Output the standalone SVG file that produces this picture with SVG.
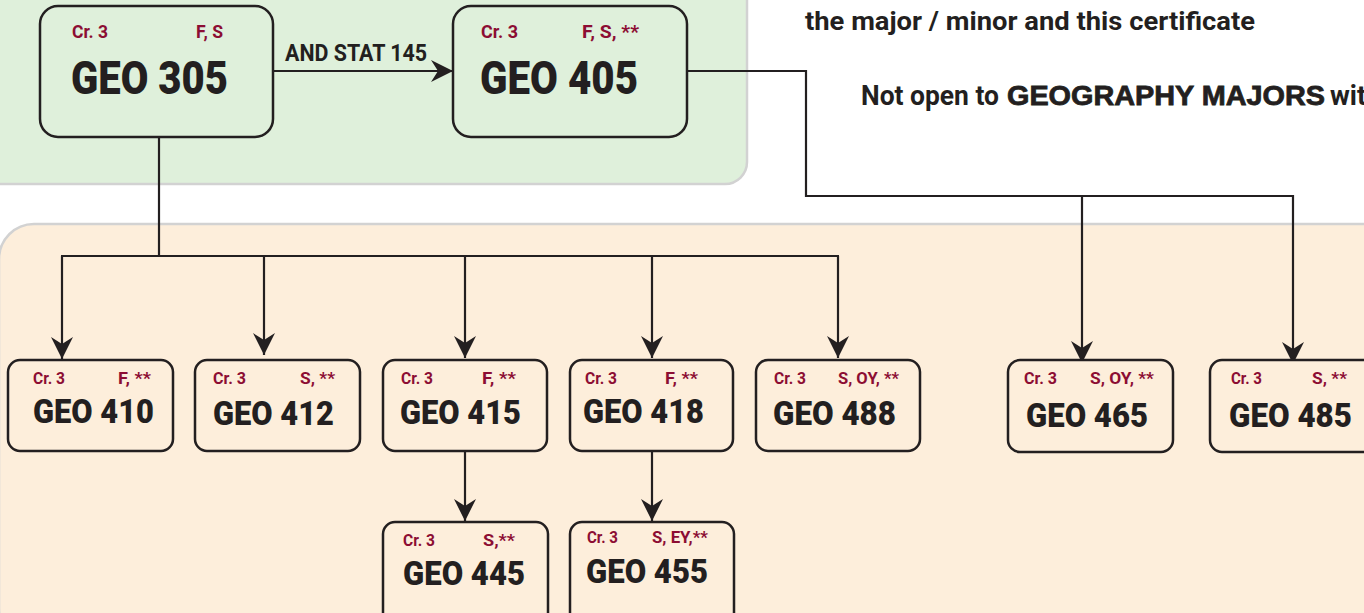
<svg xmlns="http://www.w3.org/2000/svg" width="1364" height="613" viewBox="0 0 1364 613">
<defs>
<style>
.panel-g{fill:#dff0db;stroke:#d2d2d2;stroke-width:2.5}
.panel-p{fill:#fdeedb;stroke:#d2d2d2;stroke-width:2.5}
.box{stroke:#231f20;stroke-width:2.5}
.bg{fill:#dff0db}
.bp{fill:#fdeedb}
.t{font-family:Roboto,"Liberation Sans",sans-serif;font-weight:700}
.h{font-weight:900}
.red{fill:#8c0d33}
.blk{fill:#231f20}
.conn{fill:none;stroke:#231f20;stroke-width:2.2}
</style>
<marker id="arr" markerUnits="userSpaceOnUse" viewBox="0 0 22 22" refX="22" refY="11" markerWidth="22" markerHeight="22" orient="auto">
<path d="M0,0 L22,11 L0,22 L7,11 Z" fill="#231f20"/>
</marker>
</defs>
<rect class="panel-g" x="-20" y="-30" width="767" height="214" rx="22"/>
<rect class="panel-p" x="-1" y="224" width="1420" height="420" rx="35"/>

<g id="notes" class="t blk">
<text x="805" y="30" font-size="26" textLength="450" lengthAdjust="spacingAndGlyphs">the major / minor and this certificate</text>
<text x="861" y="105" font-size="27" textLength="138" lengthAdjust="spacingAndGlyphs">Not open to</text>
<text x="1007" y="105" font-size="28" font-family="'Liberation Sans',sans-serif" font-weight="900" stroke="#231f20" stroke-width="0.8" textLength="318" lengthAdjust="spacingAndGlyphs">GEOGRAPHY MAJORS</text>
<text x="1330" y="105" font-size="27">with</text>
</g>

<g id="connectors">
<path class="conn" d="M273,71 H453" marker-end="url(#arr)"/>
<path class="conn" d="M159,137 V256"/>
<path class="conn" d="M61,256 H839" stroke-width="2.6"/>
<path class="conn" d="M62,256 V359" marker-end="url(#arr)"/>
<path class="conn" d="M264,256 V355" marker-end="url(#arr)"/>
<path class="conn" d="M465,256 V358" marker-end="url(#arr)"/>
<path class="conn" d="M652,256 V358" marker-end="url(#arr)"/>
<path class="conn" d="M838,256 V358" marker-end="url(#arr)"/>
<path class="conn" d="M465,451 V521" marker-end="url(#arr)"/>
<path class="conn" d="M652,451 V521" marker-end="url(#arr)"/>
<path class="conn" d="M687,71 H806 V196 H1293 V364" marker-end="url(#arr)"/>
<path class="conn" d="M1082,196 V363" marker-end="url(#arr)"/>
<text class="t blk" x="285" y="61" font-size="24" textLength="142" lengthAdjust="spacingAndGlyphs">AND STAT 145</text>
</g>

<g id="geo305">
<rect class="box bg" x="40" y="6" width="233" height="131" rx="18"/>
<text class="t red" x="72" y="38" font-size="18" textLength="36" lengthAdjust="spacingAndGlyphs">Cr. 3</text>
<text class="t red" x="196" y="38" font-size="18" textLength="27" lengthAdjust="spacingAndGlyphs">F, S</text>
<text class="t h blk" x="71" y="94" font-size="46" textLength="157" lengthAdjust="spacingAndGlyphs">GEO 305</text>
</g>
<g id="geo405">
<rect class="box bg" x="453" y="6" width="234" height="131" rx="18"/>
<text class="t red" x="481" y="38" font-size="18" textLength="37" lengthAdjust="spacingAndGlyphs">Cr. 3</text>
<text class="t red" x="582" y="38" font-size="18" textLength="57" lengthAdjust="spacingAndGlyphs">F, S, **</text>
<text class="t h blk" x="480" y="94" font-size="46" textLength="158" lengthAdjust="spacingAndGlyphs">GEO 405</text>
</g>

<g id="geo410">
<rect class="box bp" x="8" y="360" width="165" height="91" rx="12"/>
<text class="t red" x="33" y="384" font-size="16" textLength="32" lengthAdjust="spacingAndGlyphs">Cr. 3</text>
<text class="t red" x="118" y="384" font-size="16" textLength="33" lengthAdjust="spacingAndGlyphs">F, **</text>
<text class="t h blk" x="33" y="423" font-size="34" textLength="121" lengthAdjust="spacingAndGlyphs">GEO 410</text>
</g>
<g id="geo412">
<rect class="box bp" x="195" y="360" width="165" height="91" rx="12"/>
<text class="t red" x="213" y="384" font-size="16" textLength="33" lengthAdjust="spacingAndGlyphs">Cr. 3</text>
<text class="t red" x="300" y="384" font-size="16" textLength="35" lengthAdjust="spacingAndGlyphs">S, **</text>
<text class="t h blk" x="213" y="425" font-size="34" textLength="121" lengthAdjust="spacingAndGlyphs">GEO 412</text>
</g>
<g id="geo415">
<rect class="box bp" x="383" y="360" width="164" height="91" rx="12"/>
<text class="t red" x="401" y="384" font-size="16" textLength="32" lengthAdjust="spacingAndGlyphs">Cr. 3</text>
<text class="t red" x="482" y="384" font-size="16" textLength="34" lengthAdjust="spacingAndGlyphs">F, **</text>
<text class="t h blk" x="400" y="424" font-size="34" textLength="121" lengthAdjust="spacingAndGlyphs">GEO 415</text>
</g>
<g id="geo418">
<rect class="box bp" x="570" y="360" width="163" height="91" rx="12"/>
<text class="t red" x="585" y="384" font-size="16" textLength="32" lengthAdjust="spacingAndGlyphs">Cr. 3</text>
<text class="t red" x="665" y="384" font-size="16" textLength="33" lengthAdjust="spacingAndGlyphs">F, **</text>
<text class="t h blk" x="583" y="423" font-size="34" textLength="121" lengthAdjust="spacingAndGlyphs">GEO 418</text>
</g>
<g id="geo488">
<rect class="box bp" x="756" y="360" width="164" height="91" rx="12"/>
<text class="t red" x="774" y="384" font-size="16" textLength="32" lengthAdjust="spacingAndGlyphs">Cr. 3</text>
<text class="t red" x="838" y="384" font-size="16" textLength="61" lengthAdjust="spacingAndGlyphs">S, OY, **</text>
<text class="t h blk" x="773" y="425" font-size="34" textLength="123" lengthAdjust="spacingAndGlyphs">GEO 488</text>
</g>
<g id="geo465">
<rect class="box bp" x="1008" y="360" width="165" height="92" rx="12"/>
<text class="t red" x="1024" y="384" font-size="16" textLength="33" lengthAdjust="spacingAndGlyphs">Cr. 3</text>
<text class="t red" x="1090" y="384" font-size="16" textLength="64" lengthAdjust="spacingAndGlyphs">S, OY,  **</text>
<text class="t h blk" x="1026" y="427" font-size="34" textLength="122" lengthAdjust="spacingAndGlyphs">GEO 465</text>
</g>
<g id="geo485">
<rect class="box bp" x="1210" y="360" width="180" height="92" rx="12"/>
<text class="t red" x="1231" y="384" font-size="16" textLength="31" lengthAdjust="spacingAndGlyphs">Cr. 3</text>
<text class="t red" x="1312" y="384" font-size="16" textLength="35" lengthAdjust="spacingAndGlyphs">S, **</text>
<text class="t h blk" x="1229" y="427" font-size="34" textLength="123" lengthAdjust="spacingAndGlyphs">GEO 485</text>
</g>
<g id="geo445">
<rect class="box bp" x="383" y="522" width="165" height="110" rx="12"/>
<text class="t red" x="403" y="546" font-size="16" textLength="32" lengthAdjust="spacingAndGlyphs">Cr. 3</text>
<text class="t red" x="483" y="546" font-size="16" textLength="32" lengthAdjust="spacingAndGlyphs">S,**</text>
<text class="t h blk" x="403" y="585" font-size="34" textLength="122" lengthAdjust="spacingAndGlyphs">GEO 445</text>
</g>
<g id="geo455">
<rect class="box bp" x="570" y="522" width="164" height="110" rx="12"/>
<text class="t red" x="587" y="543" font-size="16" textLength="31" lengthAdjust="spacingAndGlyphs">Cr. 3</text>
<text class="t red" x="652" y="543" font-size="16" textLength="56" lengthAdjust="spacingAndGlyphs">S, EY,**</text>
<text class="t h blk" x="586" y="583" font-size="34" textLength="122" lengthAdjust="spacingAndGlyphs">GEO 455</text>
</g>
</svg>
